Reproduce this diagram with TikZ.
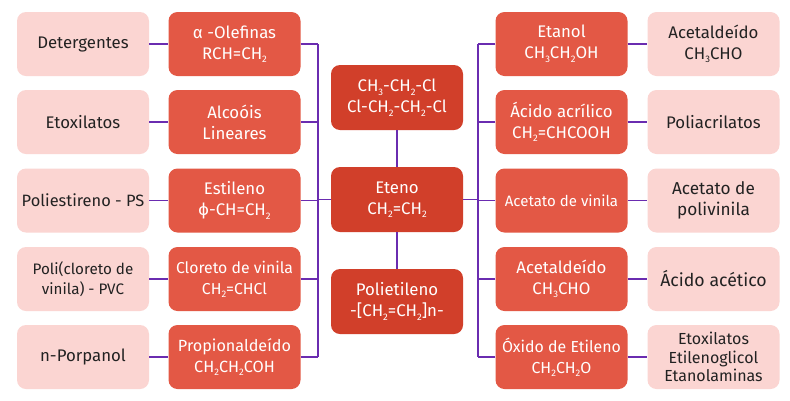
\documentclass[tikz,border=0pt]{standalone}
\usepackage{fontspec}
\setmainfont{Fira Sans}
\usetikzlibrary{calc}
\definecolor{pinkbg}{HTML}{FBD5D2}
\definecolor{redbox}{HTML}{E35845}
\definecolor{darkred}{HTML}{D13F2A}
\definecolor{lineviolet}{HTML}{6A2CB0}
\definecolor{txtdark}{HTML}{222222}
\newcommand{\sbs}[1]{\raisebox{-0.4ex}{\fontsize{9.5}{9.5}\selectfont #1}}
\tikzset{
  basebox/.style={rounded corners=9pt, minimum width=132pt, minimum height=64pt, align=center, inner sep=2pt, font=\fontsize{16.8}{21}\selectfont},
  pinkbox/.style={basebox, fill=pinkbg, text=txtdark},
  redbx/.style={basebox, fill=redbox, text=white},
  centerbx/.style={basebox, fill=darkred, text=white, minimum height=65pt},
  conn/.style={draw=lineviolet, line width=1.6pt}
}
\begin{document}
\begin{tikzpicture}[x=1pt,y=-1pt]
\useasboundingbox (0,0) rectangle (790,400);
\fill[white] (0,0) rectangle (790,400);
% bus coordinates
\coordinate (bl) at (318,200);
\coordinate (br) at (478,200);
% left pink
\node[pinkbox] (lp1) at (83,44) {Detergentes};
\node[pinkbox] (lp2) at (83,122) {Etoxilatos};
\node[pinkbox, font=\fontsize{16.4}{21}\selectfont] (lp3) at (83,200.5) {Poliestireno - PS};
\node[pinkbox, font=\fontsize{15.2}{19.5}\selectfont] (lp4) at (83,279) {Poli(cloreto de\\vinila) - PVC};
\node[pinkbox] (lp5) at (83,357) {n-Porpanol};
% left red
\node[redbx] (lr1) at (234.5,44) {α -Olefinas\\RCH=CH\sbs{2}};
\node[redbx] (lr2) at (234.5,122) {Alcoóis\\Lineares};
\node[redbx] (lr3) at (234.5,200.5) {Estileno\\ϕ-CH=CH\sbs{2}};
\node[redbx, font=\fontsize{15.8}{21}\selectfont] (lr4) at (234.5,279) {Cloreto de vinila\\CH\sbs{2}=CHCl};
\node[redbx, font=\fontsize{16.2}{21}\selectfont] (lr5) at (234.5,357) {Propionaldeído\\CH\sbs{2}CH\sbs{2}COH};
% center
\node[centerbx] (c1) at (397,97.5) {CH\sbs{3}-CH\sbs{2}-Cl\\Cl-CH\sbs{2}-CH\sbs{2}-Cl};
\node[centerbx] (c2) at (397,199.5) {Eteno\\CH\sbs{2}=CH\sbs{2}};
\node[centerbx] (c3) at (397,301.5) {Polietileno\\-[CH\sbs{2}=CH\sbs{2}]n-};
% right red
\node[redbx] (rr1) at (561.5,44) {Etanol\\CH\sbs{3}CH\sbs{2}OH};
\node[redbx] (rr2) at (561.5,122) {Ácido acrílico\\CH\sbs{2}=CHCOOH};
\node[redbx, font=\fontsize{15}{18}\selectfont] (rr3) at (561.5,200.5) {Acetato de vinila};
\node[redbx] (rr4) at (561.5,279) {Acetaldeído\\CH\sbs{3}CHO};
\node[redbx, font=\fontsize{15.9}{21}\selectfont] (rr5) at (561.5,357) {Óxido de Etileno\\CH\sbs{2}CH\sbs{2}O};
% right pink
\node[pinkbox] (rp1) at (713.5,44) {Acetaldeído\\CH\sbs{3}CHO};
\node[pinkbox] (rp2) at (713.5,122) {Poliacrilatos};
\node[pinkbox, font=\fontsize{17.2}{21}\selectfont] (rp3) at (713.5,200.5) {Acetato de\\polivinila};
\node[pinkbox, font=\fontsize{17.7}{22}\selectfont] (rp4) at (713.5,279) {Ácido acético};
\node[pinkbox, font=\fontsize{16}{18.5}\selectfont] (rp5) at (713.5,357) {Etoxilatos\\Etilenoglicol\\Etanolaminas};
% connectors pink-red
\foreach \i in {1,...,5}{
  \draw[conn] (lp\i) -- (lr\i);
  \draw[conn] (lr\i.east) -- (lr\i.east -| bl);
  \draw[conn] (rr\i) -- (rp\i);
  \draw[conn] (rr\i.west) -- (rr\i.west -| br);
}
% buses
\draw[conn] (lr1.east -| bl) -- (lr5.east -| bl);
\draw[conn] (rr1.west -| br) -- (rr5.west -| br);
% center links
\draw[conn] (c2.west) -- (c2.west -| bl);
\draw[conn] (c2.east) -- (c2.east -| br);
\draw[conn] (c1) -- (c2);
\draw[conn] (c2) -- (c3);
\end{tikzpicture}
\end{document}
